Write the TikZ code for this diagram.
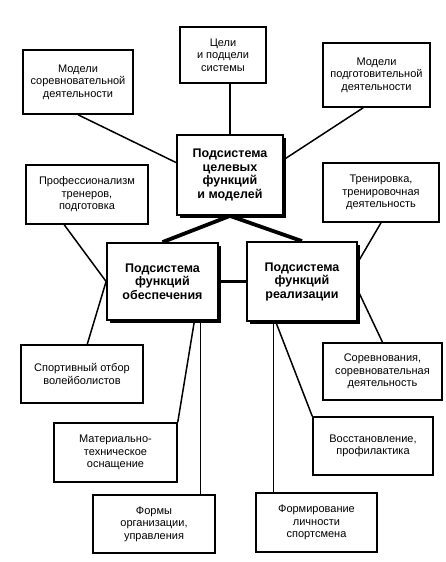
\documentclass[tikz,border=0pt]{standalone}
\usepackage{fontspec}
\setmainfont{Liberation Sans}
\usetikzlibrary{shadows}

\begin{document}
\begin{tikzpicture}[x=1pt, y=-1pt,
    item/.style={rectangle, draw, line width=1.5pt, fill=white, align=center,
                 inner sep=2pt, font=\fontsize{11}{12.5}\selectfont},
    subsys/.style={rectangle, draw, line width=1.8pt, fill=white, align=center,
                   inner sep=2pt, font=\fontsize{12.5}{13.5}\selectfont\bfseries,
                   drop shadow={shadow xshift=2.5pt, shadow yshift=-2.5pt, fill=black, opacity=1}},
    link/.style={line width=1.5pt},
    mainlink/.style={line width=3.8pt}]
    \useasboundingbox (0,0) rectangle (446,562);

    % central subsystems
    \node[subsys, minimum width=106pt, minimum height=80pt] (target) at (230,175) {Подсистема\\целевых\\функций\\и моделей};
    \node[subsys, minimum width=111pt, minimum height=77pt] (support) at (162.5,281.5) {Подсистема\\функций\\обеспечения};
    \node[subsys, minimum width=110pt, minimum height=79pt] (realize) at (302,281.5) {Подсистема\\функций\\реализации};

    % goals and models
    \node[item, minimum width=86pt, minimum height=56pt] (goals) at (223,55) {Цели\\и подцели\\системы};
    \node[item, minimum width=110pt, minimum height=64pt] (modcomp) at (78,82) {Модели\\соревновательной\\деятельности};
    \node[item, minimum width=107pt, minimum height=64pt] (modprep) at (376.5,75) {Модели\\подготовительной\\деятельности};

    % support functions
    \node[item, minimum width=122pt, minimum height=59pt] (prof) at (87,194.5) {Профессионализм\\тренеров,\\подготовка};
    \node[item, minimum width=122pt, minimum height=58pt] (select) at (82,374) {Спортивный отбор\\волейболистов};
    \node[item, minimum width=123pt, minimum height=59pt] (matbase) at (115.5,452.5) {Материально-\\техническое\\оснащение};
    \node[item, minimum width=122pt, minimum height=58pt] (forms) at (154,524) {Формы\\организации,\\управления};

    % realization functions
    \node[item, minimum width=116pt, minimum height=59pt] (train) at (381,192.5) {Тренировка,\\тренировочная\\деятельность};
    \node[item, minimum width=119pt, minimum height=57pt] (contest) at (382.5,371.5) {Соревнования,\\соревновательная\\деятельность};
    \node[item, minimum width=120pt, minimum height=58pt] (recover) at (373,446) {Восстановление,\\профилактика};
    \node[item, minimum width=121pt, minimum height=59pt] (person) at (316.5,522.5) {Формирование\\личности\\спортсмена};

    % links
    \draw[mainlink] (target.south) -- (support.north);
    \draw[mainlink] (target.south) -- (realize.north);
    \draw[mainlink] (support.east) -- (realize.west);
    \draw[link] (goals.south -| target.north) -- (target.north);
    \draw[link] (modcomp.south) -- (target.167);
    \draw[link] (modprep.248) -- (target.16);
    \draw[link] (prof.233) -- (support.west);
    \draw[link] (support.west) -- (select.80);
    \draw[link] (support.-51) -- (matbase.north east);
    \draw[link] (support.-46) -- (support.-46 |- forms.north);
    \draw[link] (train.south) -- (realize.19);
    \draw[link] (realize.-9) -- (contest.north);
    \draw[link] (realize.237) -- (recover.north west);
    \draw[link] (realize.235) -- (realize.235 |- person.north);
\end{tikzpicture}
\end{document}
